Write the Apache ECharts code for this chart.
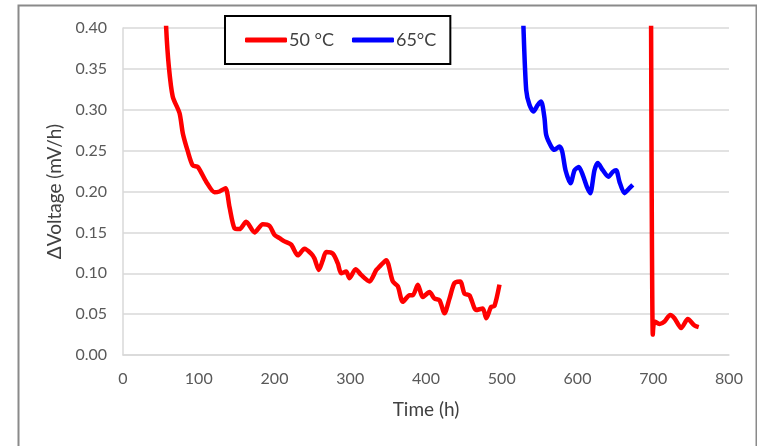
<!DOCTYPE html>
<html>
<head>
<meta charset="utf-8">
<script src="https://cdn.jsdelivr.net/npm/echarts@6/dist/echarts.min.js"></script>
<style>
  html, body { margin: 0; padding: 0; background: #fff; }
  #chart { width: 757px; height: 446px; }
</style>
</head>
<body>
<div id="chart"></div>
<script>
// Voltage decay rate vs. time, two temperatures
const xTicks = [0, 100, 200, 300, 400, 500, 600, 700, 800];
const yTicks = [0, 0.05, 0.10, 0.15, 0.20, 0.25, 0.30, 0.35, 0.40];

// 50 °C, first run (h, mV/h)
const time50a = [56.5, 57, 60.5, 65.7, 74.6, 79, 85.6, 92, 98.8, 109.8, 120.8, 127.4, 135.3, 140.6,
  147.2, 153.8, 162.6, 173.6, 184.6, 193.4, 200, 206.6, 213.2, 222, 230.8, 239.6, 248.4, 252.8,
  258.5, 263.8, 268.2, 277, 283.6, 288, 294.6, 299, 307, 314.4, 325.4, 334.3, 338.6, 347.4,
  356.2, 362.8, 369.4, 378.2, 382.6, 389.2, 395.8, 404.6, 411.2, 417.8, 424.4, 431, 437.6,
  445.1, 450.8, 457.4, 466.3, 475, 479.5, 486, 490.4, 497];
const volt50a = [0.43, 0.40, 0.353, 0.316, 0.296, 0.271, 0.249, 0.232, 0.230, 0.212, 0.199, 0.200, 0.204, 0.181,
  0.155, 0.154, 0.163, 0.150, 0.160, 0.158, 0.147, 0.143, 0.139, 0.135, 0.122, 0.130, 0.124, 0.118,
  0.104, 0.116, 0.126, 0.124, 0.112, 0.100, 0.102, 0.094, 0.105, 0.098, 0.090, 0.104, 0.108, 0.116,
  0.090, 0.084, 0.065, 0.073, 0.073, 0.086, 0.071, 0.077, 0.069, 0.067, 0.051, 0.069, 0.088,
  0.090, 0.075, 0.073, 0.055, 0.057, 0.045, 0.059, 0.060, 0.086];

// 50 °C, restart
const time50b = [697, 699.4, 701.6, 708.3, 714.9, 722.4, 728, 736.9, 745.6, 754.5, 760];
const volt50b = [0.45, 0.025, 0.041, 0.038, 0.041, 0.049, 0.045, 0.033, 0.044, 0.036, 0.034];

// 65 °C
const time65 = [528.3, 528.7, 532.3, 536.6, 541.9, 547.6, 552, 556.4, 558.7, 565.3, 569.6, 576.2,
  579.8, 584.2, 590.8, 596.1, 601.7, 607, 612.3, 616.8, 622.4, 626.8, 633.4, 640.9, 646.6,
  651, 655.4, 662, 668.6, 673];
const volt65 = [0.43, 0.40, 0.324, 0.306, 0.298, 0.306, 0.310, 0.290, 0.269, 0.255, 0.251, 0.255,
  0.249, 0.226, 0.210, 0.226, 0.230, 0.220, 0.206, 0.198, 0.226, 0.235, 0.226, 0.218, 0.224,
  0.226, 0.212, 0.198, 0.204, 0.208];

const zip = (xs, ys) => xs.map((x, i) => [x, ys[i]]);

const FONT = 'Lato, "Open Sans", sans-serif';
const chart = echarts.init(document.getElementById('chart'), null, { renderer: 'canvas' });

const lineSeries = (name, color, data) => ({
  name, type: 'line', data, smooth: 0.25, showSymbol: false, symbol: 'none',
  lineStyle: { color, width: 4.5 }, itemStyle: { color }, clip: true,
  emphasis: { disabled: true }
});

chart.setOption({
  animation: false,
  backgroundColor: '#fff',
  graphic: [{
    type: 'rect', left: 16, top: 3, z: -10,
    shape: { x: 0, y: 0, width: 738, height: 470 },
    style: { fill: 'none', stroke: '#8a8a8a', lineWidth: 2 }
  }],
  grid: { left: 123, top: 28, width: 606, height: 327 },
  legend: {
    left: 225, top: 16,
    padding: [15, 14, 15, 20],
    borderColor: '#000', borderWidth: 2, backgroundColor: '#fff',
    itemWidth: 42, itemHeight: 5, itemGap: 18,
    icon: 'roundRect',
    data: ['50 °C', '65°C'],
    textStyle: { fontFamily: FONT, fontSize: 18, color: '#404040', padding: [0, 0, 0, -3] }
  },
  xAxis: {
    type: 'value', min: 0, max: 800, interval: 100,
    name: 'Time (h)', nameLocation: 'middle', nameGap: 45,
    nameTextStyle: { fontFamily: FONT, fontSize: 19, color: '#404040' },
    axisLine: { show: true, lineStyle: { color: '#d9d9d9', width: 1.5 } },
    axisTick: { show: false },
    splitLine: { show: false },
    axisLabel: { fontFamily: FONT, fontSize: 16, color: '#595959', margin: 16,
      formatter: v => xTicks.includes(v) ? String(v) : '' }
  },
  yAxis: {
    type: 'value', min: 0, max: 0.4, interval: 0.05,
    name: 'ΔVoltage (mV/h)', nameLocation: 'middle', nameGap: 58, nameRotate: 90,
    nameTextStyle: { fontFamily: FONT, fontSize: 19, color: '#404040' },
    axisLine: { show: true, lineStyle: { color: '#d9d9d9', width: 1.5 } },
    axisTick: { show: false },
    splitLine: { show: true, lineStyle: { color: '#d9d9d9', width: 1.5 } },
    axisLabel: { fontFamily: FONT, fontSize: 16, color: '#595959', margin: 16,
      formatter: v => {
        const t = yTicks.find(k => Math.abs(k - v) < 1e-9);
        return t === undefined ? '' : t.toFixed(2);
      } }
  },
  series: [
    lineSeries('50 °C', '#ff0000', zip(time50a, volt50a)),
    lineSeries('50 °C', '#ff0000', zip(time50b, volt50b)),
    lineSeries('65°C', '#0000ff', zip(time65, volt65))
  ]
});
</script>
</body>
</html>
